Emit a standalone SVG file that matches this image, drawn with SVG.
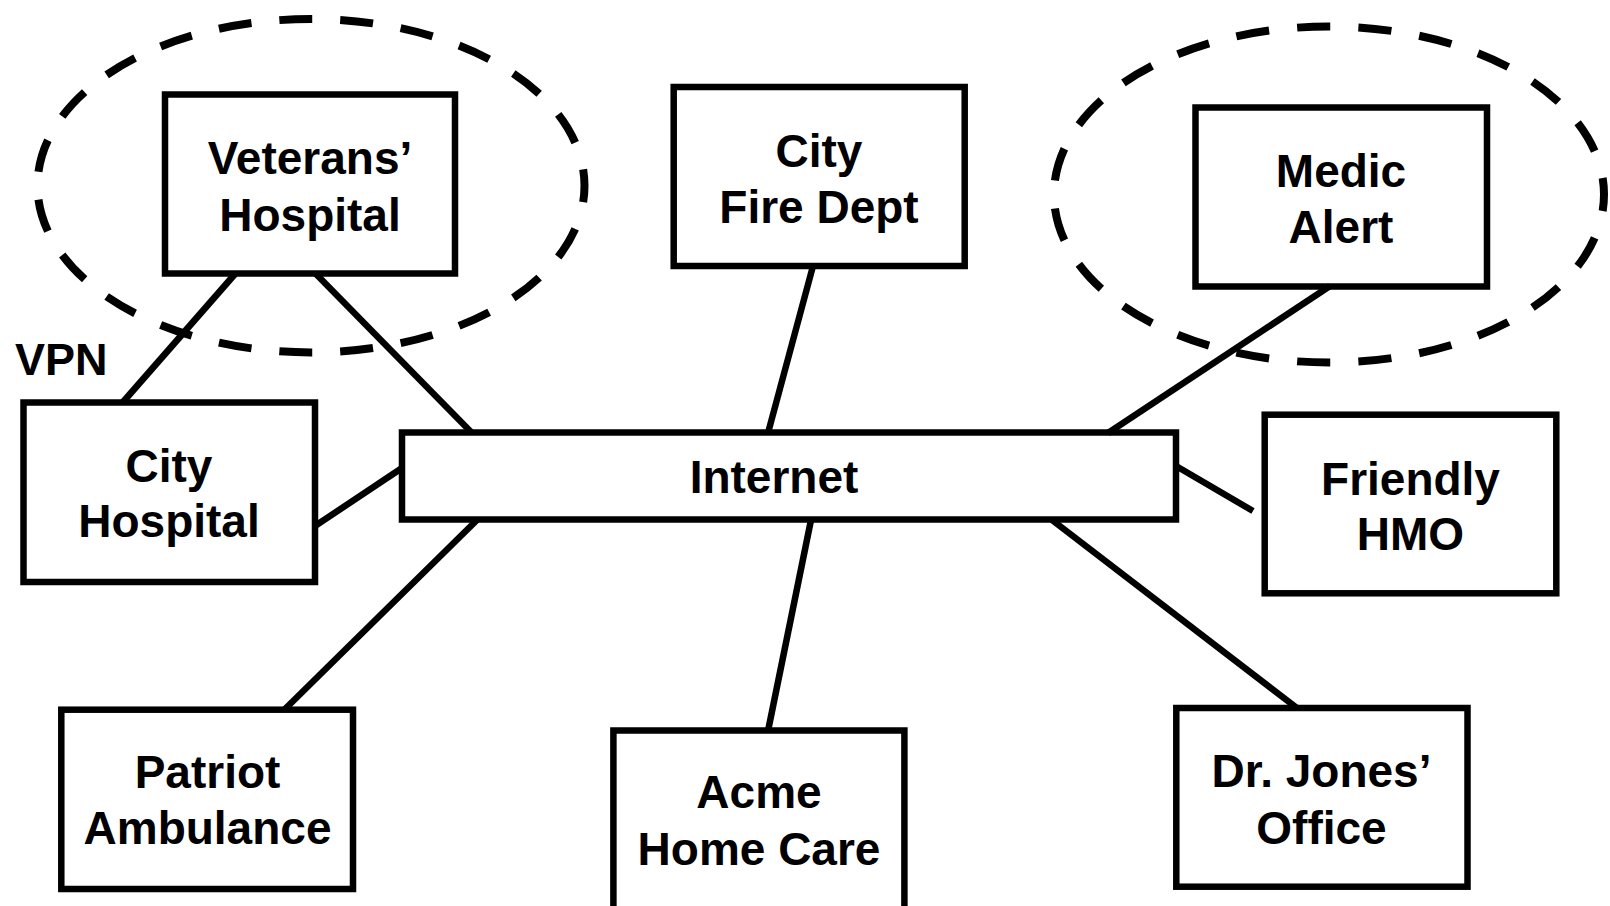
<svg xmlns="http://www.w3.org/2000/svg" width="1610" height="906" viewBox="0 0 1610 906">
  <style>
    .box { fill: #ffffff; stroke: #000000; stroke-width: 6.5; }
    .link { stroke: #000000; stroke-width: 6.5; fill: none; }
    .zone { fill: none; stroke: #000000; stroke-width: 8; stroke-dasharray: 33 28; stroke-dashoffset: 16.5; }
    .label { font-family: "Liberation Sans", Arial, sans-serif; font-weight: bold; font-size: 46px; fill: #000000; text-anchor: middle; }
    .note { font-family: "Liberation Sans", Arial, sans-serif; font-weight: bold; font-size: 45px; fill: #000000; }
  </style>
  <rect x="0" y="0" width="1610" height="906" fill="#ffffff"/>

  <!-- private zones -->
  <g id="zones">
    <ellipse class="zone" cx="311" cy="185.7" rx="273.5" ry="166.7" pathLength="1403"/>
    <ellipse class="zone" cx="1329" cy="194.5" rx="275" ry="168" pathLength="1403"/>
  </g>

  <g id="veterans-hospital">
    <rect class="box" x="165" y="94.5" width="290" height="179"/>
    <text class="label" x="310" y="174">Veterans’</text>
    <text class="label" x="310" y="231">Hospital</text>
  </g>

  <g id="city-fire-dept">
    <rect class="box" x="673.7" y="87" width="291" height="179"/>
    <text class="label" x="819" y="167">City</text>
    <text class="label" x="819" y="222.5">Fire Dept</text>
  </g>

  <g id="medic-alert">
    <rect class="box" x="1195.5" y="107.5" width="291.5" height="179"/>
    <text class="label" x="1341" y="187">Medic</text>
    <text class="label" x="1341" y="243">Alert</text>
  </g>

  <g id="city-hospital">
    <rect class="box" x="23.5" y="402.5" width="291.5" height="179.5"/>
    <text class="label" x="169" y="482">City</text>
    <text class="label" x="169" y="537">Hospital</text>
  </g>

  <g id="internet">
    <rect class="box" x="402" y="432.5" width="774" height="87"/>
    <text class="label" x="774" y="493">Internet</text>
  </g>

  <g id="friendly-hmo">
    <rect class="box" x="1264.7" y="414.7" width="291.6" height="178.6"/>
    <text class="label" x="1410.5" y="494.5">Friendly</text>
    <text class="label" x="1410.5" y="550">HMO</text>
  </g>

  <g id="patriot-ambulance">
    <rect class="box" x="61.3" y="709.7" width="291.7" height="179.3"/>
    <text class="label" x="207.5" y="788">Patriot</text>
    <text class="label" x="207.5" y="844">Ambulance</text>
  </g>

  <g id="acme-home-care">
    <rect class="box" x="613.4" y="730.5" width="291" height="180"/>
    <text class="label" x="759" y="808">Acme</text>
    <text class="label" x="759" y="865">Home Care</text>
  </g>

  <g id="dr-jones-office">
    <rect class="box" x="1176.3" y="708" width="291.2" height="178.7"/>
    <text class="label" x="1321.5" y="787">Dr. Jones’</text>
    <text class="label" x="1321.5" y="843.5">Office</text>
  </g>

  <text id="vpn-label" class="note" x="15" y="375">VPN</text>

  <!-- links between sites -->
  <g id="connectors">
    <line class="link" x1="235" y1="274" x2="123" y2="402"/>
    <line class="link" x1="316" y1="274" x2="472" y2="433"/>
    <line class="link" x1="813" y1="266" x2="768" y2="433"/>
    <line class="link" x1="1330" y1="286" x2="1108" y2="433"/>
    <line class="link" x1="315" y1="526" x2="402" y2="468"/>
    <line class="link" x1="1176" y1="466" x2="1253" y2="511"/>
    <line class="link" x1="477" y1="520" x2="284" y2="710"/>
    <line class="link" x1="811" y1="520" x2="768" y2="731"/>
    <line class="link" x1="1052" y1="520" x2="1297" y2="708"/>
  </g>
</svg>
